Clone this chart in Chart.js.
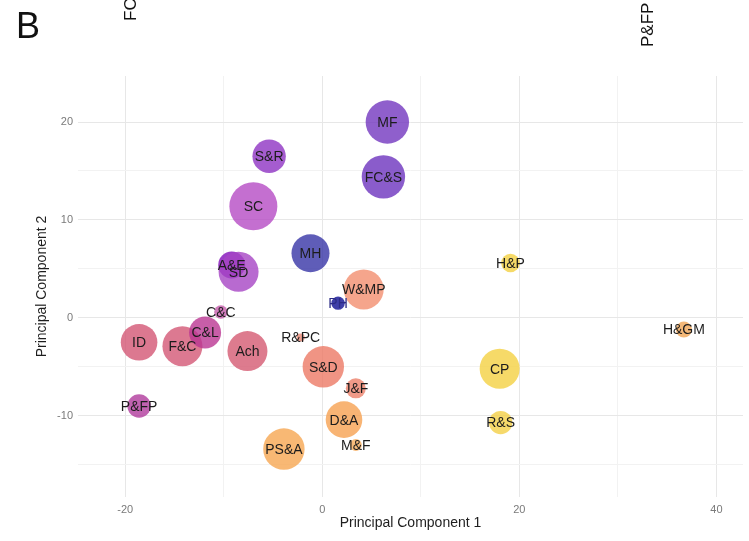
<!DOCTYPE html>
<html>
<head>
<meta charset="utf-8">
<script src="https://cdn.jsdelivr.net/npm/chart.js@4.4.1/dist/chart.umd.min.js"></script>
<style>
  html, body { margin: 0; padding: 0; background: #fff; }
</style>
</head>
<body>
<canvas id="pca" width="749" height="541"></canvas>
<script>
// categories, in drawing order (later ones sit on top)
const labels = ['MF', 'S&R', 'FC&S', 'SC', 'MH', 'A&E', 'SD', 'PH', 'W&MP', 'C&C',
  'ID', 'F&C', 'C&L', 'Ach', 'R&PC', 'S&D', 'J&F', 'P&FP', 'D&A', 'M&F',
  'PS&A', 'H&P', 'H&GM', 'CP', 'R&S'];
const pc1 = [6.6, -5.4, 6.2, -7.0, -1.2, -9.2, -8.5, 1.6, 4.2, -10.3,
  -18.6, -14.2, -11.9, -7.6, -2.2, 0.1, 3.4, -18.6, 2.2, 3.4,
  -3.9, 19.1, 36.7, 18.0, 18.1];
const pc2 = [20.0, 16.5, 14.4, 11.4, 6.6, 5.4, 4.7, 1.5, 2.9, 0.6,
  -2.5, -2.9, -1.5, -3.4, -2.0, -5.0, -7.2, -9.0, -10.4, -13.0,
  -13.4, 5.6, -1.2, -5.2, -10.7];
// bubble size (radius as drawn)
const sizes = [21.7, 16.7, 21.7, 24, 19, 13.5, 20, 6.7, 20, 6.7,
  18.3, 20, 16, 20, 4, 20.7, 10, 11.7, 18.3, 6,
  20.7, 9.3, 8, 20, 11.7];
const colours = [
  'rgba(115,55,191,0.8)', 'rgba(142,51,195,0.8)', 'rgba(109,51,190,0.8)', 'rgba(181,75,196,0.8)',
  'rgba(55,52,166,0.8)', 'rgba(130,15,186,0.8)', 'rgba(166,69,196,0.8)', 'rgba(15,15,146,0.8)',
  'rgba(242,142,111,0.8)', 'rgba(196,91,170,0.8)', 'rgba(211,86,116,0.8)', 'rgba(211,88,118,0.8)',
  'rgba(186,54,146,0.8)', 'rgba(212,90,114,0.8)', 'rgba(234,136,116,0.8)', 'rgba(236,121,101,0.8)',
  'rgba(236,129,106,0.8)', 'rgba(176,59,156,0.8)', 'rgba(246,161,81,0.8)', 'rgba(246,171,91,0.8)',
  'rgba(246,166,81,0.8)', 'rgba(244,209,66,0.8)', 'rgba(241,166,86,0.8)', 'rgba(244,209,66,0.8)',
  'rgba(244,207,70,0.8)'];
const xTicks = [-20, -10, 0, 10, 20, 30, 40];
const yTicks = [-15, -10, -5, 0, 5, 10, 15, 20];

const points = labels.map((l, i) => ({ x: pc1[i], y: pc2[i], r: sizes[i] }));

// text label centred on each bubble
const pointLabels = {
  id: 'pointLabels',
  afterDatasetsDraw(chart) {
    const { ctx } = chart;
    const meta = chart.getDatasetMeta(0);
    ctx.save();
    ctx.font = '14px "Liberation Sans", Arial, sans-serif';
    ctx.textAlign = 'center';
    ctx.textBaseline = 'middle';
    meta.data.forEach((pt, i) => {
      ctx.fillStyle = labels[i] === 'PH' ? '#2c2c86' : '#1c1c1c';
      ctx.fillText(labels[i], pt.x, pt.y + 1);
    });
    ctx.restore();
  }
};

// panel letter and the clipped labels of the neighbouring panel
const panelText = {
  id: 'panelText',
  afterDraw(chart) {
    const { ctx } = chart;
    ctx.save();
    ctx.fillStyle = '#111';
    ctx.font = '36px "Liberation Sans", Arial, sans-serif';
    ctx.textBaseline = 'alphabetic';
    ctx.fillText('B', 16, 38);
    ctx.font = '17px "Liberation Sans", Arial, sans-serif';
    ctx.textBaseline = 'middle';
    ctx.textAlign = 'left';
    [['FC&S', 131, 21], ['P&FP', 648, 47]].forEach(([t, x, y]) => {
      ctx.save();
      ctx.translate(x, y);
      ctx.rotate(-Math.PI / 2);
      ctx.fillText(t, 0, 0);
      ctx.restore();
    });
    ctx.restore();
  }
};

const gridColour = c => (c.tick && c.tick.value % 10 === 0 ? '#e7e7e7' : '#f2f2f2');

new Chart(document.getElementById('pca'), {
  type: 'bubble',
  data: {
    datasets: [{
      data: points,
      backgroundColor: colours,
      borderWidth: 0,
      hoverRadius: 0
    }]
  },
  options: {
    responsive: false,
    animation: false,
    events: [],
    layout: { autoPadding: false, padding: { top: 76, right: 6, left: 0, bottom: 0 } },
    plugins: { legend: { display: false }, tooltip: { enabled: false } },
    scales: {
      x: {
        type: 'linear',
        min: -24.8,
        max: 42.7,
        afterBuildTicks: s => { s.ticks = xTicks.map(value => ({ value })); },
        afterFit: s => { s.height = 44; s.paddingLeft = 0; s.paddingRight = 0; },
        grid: { color: c => (c.tick && c.tick.value % 20 === 0 ? '#e7e7e7' : '#f2f2f2'), drawTicks: false },
        border: { display: false },
        ticks: {
          autoSkip: false,
          maxRotation: 0,
          padding: 6,
          color: '#7a7a7a',
          font: { size: 11, family: '"Liberation Sans", Arial, sans-serif' },
          callback: v => (v % 20 === 0 ? v : '')
        },
        title: {
          display: true,
          text: 'Principal Component 1',
          color: '#1e1e1e',
          font: { size: 14, family: '"Liberation Sans", Arial, sans-serif' },
          padding: { top: 0, bottom: 9 }
        }
      },
      y: {
        type: 'linear',
        min: -18.3,
        max: 24.7,
        afterBuildTicks: s => { s.ticks = yTicks.map(value => ({ value })); },
        afterFit: s => { s.width = 78; s.paddingTop = 0; s.paddingBottom = 0; },
        grid: { color: gridColour, drawTicks: false },
        border: { display: false },
        ticks: {
          autoSkip: false,
          padding: 5,
          color: '#7a7a7a',
          font: { size: 11, family: '"Liberation Sans", Arial, sans-serif' },
          callback: v => (v % 10 === 0 ? v : '')
        },
        title: {
          display: true,
          text: 'Principal Component 2',
          color: '#1e1e1e',
          font: { size: 14, family: '"Liberation Sans", Arial, sans-serif' },
          padding: { top: 34, bottom: 0 }
        }
      }
    }
  },
  plugins: [pointLabels, panelText]
});
</script>
</body>
</html>
